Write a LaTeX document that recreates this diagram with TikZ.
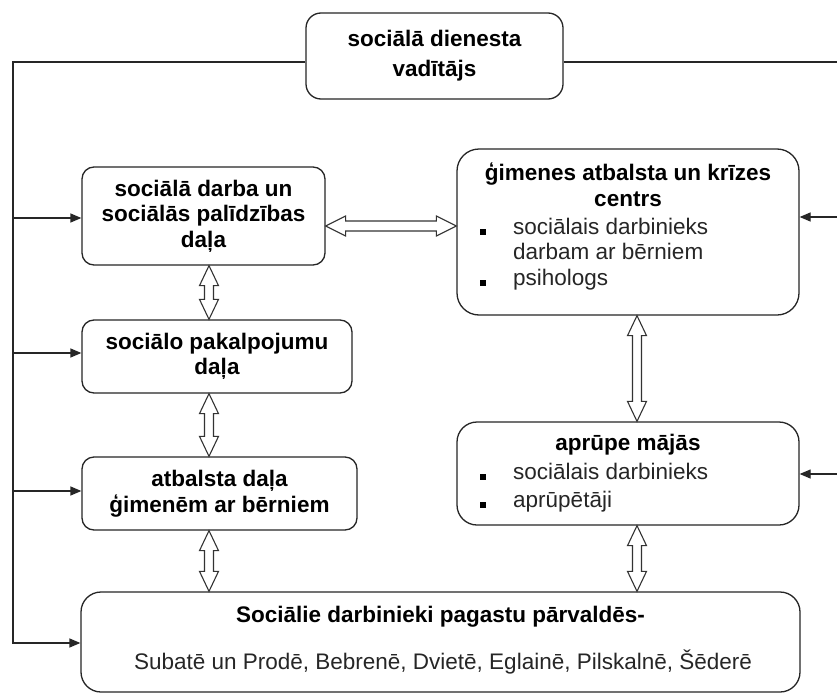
\documentclass[tikz,border=0pt]{standalone}
\usepackage{fontspec}
\setmainfont{Liberation Sans}
\usetikzlibrary{arrows.meta,calc}
\newcommand\vdblarrow[3]{%
  \draw[dblarr] let \p1=(#1 |- #2.south), \p2=(#1 |- #3.north) in
    (\x1,\y1) -- (\x1+9.5pt,\y1-20pt) -- (\x1+4.5pt,\y1-20pt) -- (\x1+4.5pt,\y2+20pt)
    -- (\x1+9.5pt,\y2+20pt) -- (\x1,\y2) -- (\x1-9.5pt,\y2+20pt) -- (\x1-4.5pt,\y2+20pt)
    -- (\x1-4.5pt,\y1-20pt) -- (\x1-9.5pt,\y1-20pt) -- cycle;}
\begin{document}
\begin{tikzpicture}[x=1pt,y=-1pt,
  box/.style={draw=black!85, line width=1.3pt, rounded corners=#1, inner sep=0pt, fill=white},
  box/.default=12pt,
  ttl/.style={font=\fontsize{22.5}{25.5}\selectfont\bfseries, align=center},
  txt/.style={font=\fontsize{22.5}{25.5}\selectfont, text=black!85, inner sep=0pt},
  ln/.style={line width=1.3pt, draw=black!85},
  arr/.style={ln, -{Triangle[length=11pt,width=9pt]}},
  dblarr/.style={line width=1.1pt, draw=black!80, fill=white, line join=miter},
  bul/.style={fill=black, rectangle, minimum size=6.5pt, inner sep=0pt}
]
\useasboundingbox (0,0) rectangle (837,693);
\fill[white] (0,0) rectangle (837,693);

% boxes
\node[box=15pt, ttl, font=\fontsize{22.5}{30}\selectfont\bfseries, minimum width=257pt, minimum height=86pt] (top) at (434.5,56) {sociālā dienesta\\vadītājs};
\node[box, ttl, minimum width=243pt, minimum height=98pt] (b1) at (203.5,216) {sociālā darba un\\sociālās palīdzības\\daļa};
\node[box, ttl, minimum width=270pt, minimum height=73pt] (b2) at (217,356.5) {sociālo pakalpojumu\\daļa};
\node[box, ttl, minimum width=275pt, minimum height=73pt] (b3) at (219.5,493.5) {atbalsta daļa\\ģimenēm ar bērniem};
\node[box=22pt, minimum width=342pt, minimum height=166pt] (r1) at (628,232) {};
\node[box=20pt, minimum width=342pt, minimum height=103pt] (r2) at (628,473.5) {};
\node[box=20pt, minimum width=719pt, minimum height=100pt] (bot) at (440.5,642) {};

% texts in right boxes
\node[ttl, anchor=mid, inner sep=0pt] (r1t) at (628,178) {ģimenes atbalsta un krīzes};
\node[ttl, anchor=mid, inner sep=0pt] (r1t2) at (628,204) {centrs};
\node[bul] (r1b1) at (483,232) {};
\node[txt, anchor=mid west] (r1i1) at (513,232) {sociālais darbinieks};
\node[txt, anchor=mid west] (r1i1b) at (513,257) {darbam ar bērniem};
\node[bul] (r1b2) at (483,283) {};
\node[txt, anchor=mid west] (r1i2) at (513,283) {psihologs};

\node[ttl, anchor=mid, inner sep=0pt] (r2t) at (628,448) {aprūpe mājās};
\node[bul] (r2b1) at (483,477) {};
\node[txt, anchor=mid west] (r2i1) at (513,477) {sociālais darbinieks};
\node[bul] (r2b2) at (483,505) {};
\node[txt, anchor=mid west] (r2i2) at (513,505) {aprūpētāji};

\node[ttl, anchor=mid, inner sep=0pt] (bott) at (440.5,620) {Sociālie darbinieki pagastu pārvaldēs-};
\node[txt, anchor=mid] (bots) at (443,667) {Subatē un Prodē, Bebrenē, Dvietē, Eglainē, Pilskalnē, Šēderē};

% leader lines
\coordinate (tl) at (13,62);
\coordinate (tr) at (837,62);
\coordinate (lb) at (13,643);
\draw[arr] (tl -| top.west) -- (tl) -- (lb) -- (lb -| bot.west);
\coordinate (l1) at (13,218);
\coordinate (l2) at (13,353);
\coordinate (l3) at (13,491);
\draw[arr] (l1) -- (l1 -| b1.west);
\draw[arr] (l2) -- (l2 -| b2.west);
\draw[arr] (l3) -- (l3 -| b3.west);
\draw[ln] (tl -| top.east) -- (tr);
\coordinate (rr1) at (837,217);
\coordinate (rr2) at (837,474);
\draw[arr] (rr1) -- (rr1 -| r1.east);
\draw[arr] (rr2) -- (rr2 -| r2.east);

% hollow double arrows
\coordinate (axL) at (209,0);
\coordinate (axR) at (637,0);
\coordinate (ahY) at (0,226);
\vdblarrow{axL}{b1}{b2}
\vdblarrow{axL}{b2}{b3}
\vdblarrow{axL}{b3}{bot}
\vdblarrow{axR}{r1}{r2}
\vdblarrow{axR}{r2}{bot}
\draw[dblarr] let \p1=(b1.east |- ahY), \p2=(r1.west |- ahY) in
  (\x1,\y1) -- (\x1+20pt,\y1+10pt) -- (\x1+20pt,\y1+5pt) -- (\x2-20pt,\y1+5pt)
  -- (\x2-20pt,\y1+10pt) -- (\x2,\y1) -- (\x2-20pt,\y1-10pt) -- (\x2-20pt,\y1-5pt)
  -- (\x1+20pt,\y1-5pt) -- (\x1+20pt,\y1-10pt) -- cycle;
\end{tikzpicture}
\end{document}
